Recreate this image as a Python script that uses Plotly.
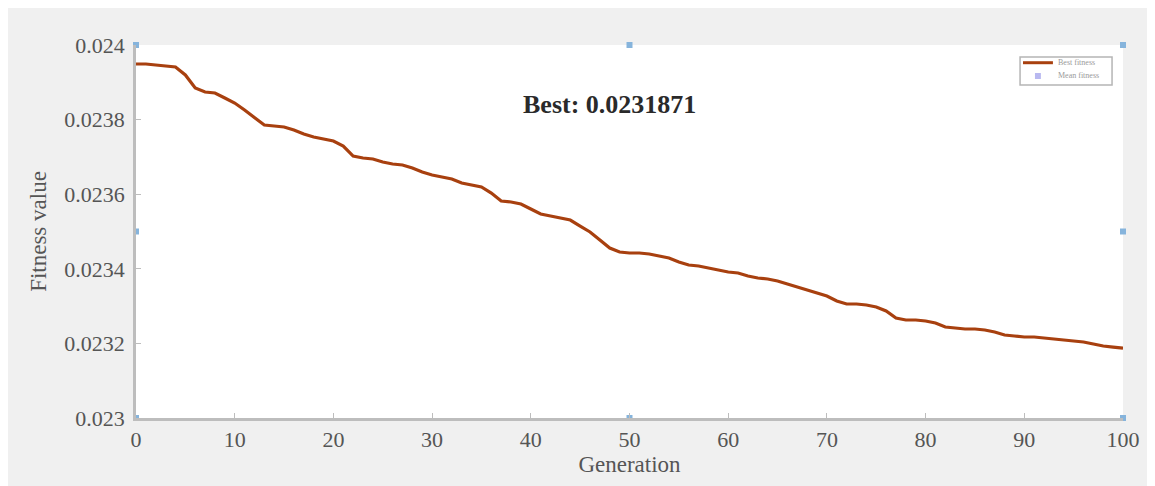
import plotly.graph_objects as go

generations = list(range(0, 101))
best_fitness = [
    0.0239491, 0.0239491, 0.0239464, 0.0239437, 0.0239410, 0.0239196, 0.0238847, 0.0238740, 0.0238713, 0.0238579,
    0.0238445, 0.0238257, 0.0238043, 0.0237855, 0.0237828, 0.0237802, 0.0237721, 0.0237614, 0.0237534, 0.0237480,
    0.0237426, 0.0237292, 0.0237024, 0.0236971, 0.0236944, 0.0236863, 0.0236810, 0.0236783, 0.0236702, 0.0236595,
    0.0236515, 0.0236461, 0.0236408, 0.0236300, 0.0236247, 0.0236193, 0.0236032, 0.0235818, 0.0235791, 0.0235737,
    0.0235603, 0.0235469, 0.0235416, 0.0235362, 0.0235308, 0.0235147, 0.0234987, 0.0234772, 0.0234558, 0.0234450,
    0.0234424, 0.0234424, 0.0234397, 0.0234343, 0.0234290, 0.0234182, 0.0234102, 0.0234075, 0.0234021, 0.0233968,
    0.0233914, 0.0233887, 0.0233807, 0.0233753, 0.0233727, 0.0233673, 0.0233592, 0.0233512, 0.0233432, 0.0233351,
    0.0233271, 0.0233137, 0.0233056, 0.0233056, 0.0233029, 0.0232976, 0.0232869, 0.0232681, 0.0232627, 0.0232627,
    0.0232601, 0.0232547, 0.0232440, 0.0232413, 0.0232386, 0.0232386, 0.0232359, 0.0232306, 0.0232225, 0.0232198,
    0.0232172, 0.0232172, 0.0232145, 0.0232118, 0.0232091, 0.0232064, 0.0232038, 0.0231984, 0.0231930, 0.0231900,
    0.0231871,
]

# selection handles visible around the axes
handle_x = [0, 50, 100, 0, 100, 0, 50, 100]
handle_y = [0.024, 0.024, 0.024, 0.0235, 0.0235, 0.023, 0.023, 0.023]

x_ticks = list(range(0, 101, 10))
y_ticks = [0.023, 0.0232, 0.0234, 0.0236, 0.0238, 0.024]
y_tick_labels = ["0.023", "0.0232", "0.0234", "0.0236", "0.0238", "0.024"]
best_label = "Best: 0.0231871"
legend_names = ["Best fitness", "Mean fitness"]

SERIF = "Liberation Serif, Times New Roman, serif"
LINE_COLOR = "#a8400f"
HANDLE_COLOR = "#86b4dc"
AXIS_COLOR = "#bdbdbd"
TEXT_COLOR = "#555555"

fig = go.Figure()

fig.add_trace(go.Scatter(
    x=generations, y=best_fitness, mode="lines", name=legend_names[0],
    line=dict(color=LINE_COLOR, width=3.2), showlegend=False,
))
fig.add_trace(go.Scatter(
    x=handle_x, y=handle_y, mode="markers", showlegend=False, cliponaxis=False,
    marker=dict(color=HANDLE_COLOR, symbol="square", size=6), hoverinfo="skip",
))

fig.add_annotation(
    x=48, y=0.02384, xref="x", yref="y", text="<b>" + best_label + "</b>",
    showarrow=False, font=dict(family=SERIF, size=26, color="#2a2a2a"),
)

# compact legend box (drawn manually to match the tiny MATLAB legend)
lx0, lx1, ly0, ly1 = 0.8957, 0.9889, 0.8928, 0.9678
shapes = [
    dict(type="rect", xref="paper", yref="paper", x0=lx0, x1=lx1, y0=ly0, y1=ly1,
         fillcolor="white", line=dict(color="#b5b5b5", width=1.5)),
    dict(type="line", xref="paper", yref="paper", x0=0.8987, x1=0.9290, y0=0.9525, y1=0.9525,
         line=dict(color=LINE_COLOR, width=3)),
    dict(type="rect", xref="paper", yref="paper", x0=0.9108, x1=0.9168, y0=0.9089, y1=0.9249,
         fillcolor="#b8b8f0", line=dict(width=0)),
]
for name, yy in zip(legend_names, [0.9525, 0.9169]):
    fig.add_annotation(
        x=0.9320, y=yy, xref="paper", yref="paper", text=name, showarrow=False,
        xanchor="left", yanchor="middle", font=dict(family=SERIF, size=8, color="#9a9a9a"),
    )

fig.update_layout(
    width=1147, height=478,
    margin=dict(l=128, r=32, t=37, b=68),
    paper_bgcolor="#f0f0f0",
    plot_bgcolor="white",
    showlegend=False,
    shapes=shapes,
)

fig.update_xaxes(
    range=[0, 100], tickvals=x_ticks, ticks="inside", ticklen=5, tickcolor=AXIS_COLOR,
    showline=True, linecolor=AXIS_COLOR, linewidth=2.5, showgrid=False, zeroline=False,
    tickfont=dict(family=SERIF, size=22, color=TEXT_COLOR),
    title=dict(text="Generation", font=dict(family=SERIF, size=23, color=TEXT_COLOR), standoff=1),
)
fig.update_yaxes(
    range=[0.023, 0.024], tickvals=y_ticks, ticktext=y_tick_labels, ticks="inside", ticklen=5,
    tickcolor=AXIS_COLOR, showline=True, linecolor=AXIS_COLOR, linewidth=2.5, showgrid=False,
    zeroline=False, ticklabelstandoff=4,
    tickfont=dict(family=SERIF, size=22, color=TEXT_COLOR),
    title=dict(text="Fitness value", font=dict(family=SERIF, size=23, color=TEXT_COLOR), standoff=12),
)

fig.write_html("out.html")
